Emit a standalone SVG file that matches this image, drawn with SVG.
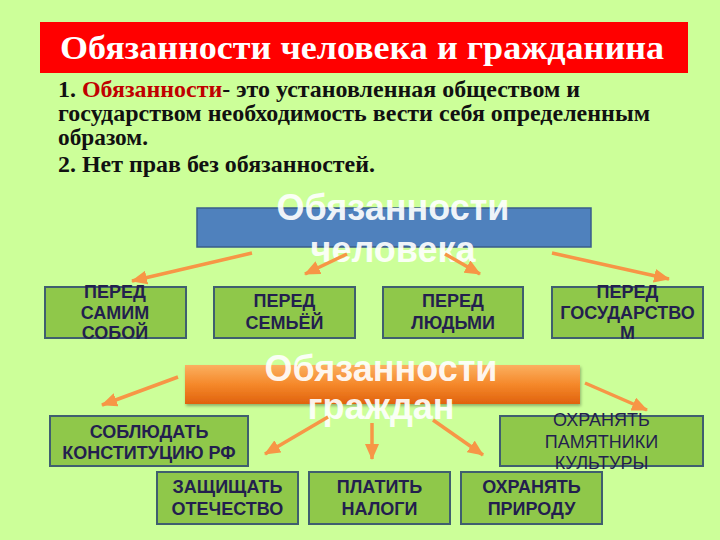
<svg xmlns="http://www.w3.org/2000/svg" width="720" height="540" viewBox="0 0 720 540">
<defs>
<style>
.bodyt{font-family:"Liberation Serif","Times New Roman",serif;font-weight:bold;font-size:23px;fill:#111111}
.node rect{fill:#8fc84a;stroke:#3f5f6f;stroke-width:2}
.nt{font-family:"Liberation Sans",Arial,sans-serif;font-weight:bold;font-size:18px;fill:#231f4e;text-anchor:middle}
.ntn{font-family:"Liberation Sans",Arial,sans-serif;font-size:18px;fill:#231f4e;text-anchor:middle}
.big{font-family:"Liberation Sans",Arial,sans-serif;font-weight:bold;font-size:36px;fill:#ffffff;fill-opacity:0.92;text-anchor:middle}
.conn line{stroke:#f79646;stroke-width:3.5;marker-end:url(#ah)}
</style>
<marker id="ah" markerUnits="userSpaceOnUse" markerWidth="16" markerHeight="14" refX="15" refY="7" orient="auto">
<path d="M0,0 L16,7 L0,14 z" fill="#f79646"/>
</marker>
<linearGradient id="og" x1="0" y1="0" x2="0" y2="1">
<stop offset="0" stop-color="#fbb060"/>
<stop offset="0.5" stop-color="#f5882a"/>
<stop offset="1" stop-color="#e0620e"/>
</linearGradient>
<filter id="sh" x="-5%" y="-10%" width="110%" height="130%">
<feDropShadow dx="1" dy="2" stdDeviation="1.5" flood-color="#000" flood-opacity="0.3"/>
</filter>
</defs>
<rect x="0" y="0" width="720" height="540" fill="#ccff99"/>

<g id="title">
<rect x="40" y="22" width="648" height="51" fill="#ff0000"/>
<text x="60" y="59" textLength="604" lengthAdjust="spacingAndGlyphs" font-family="Liberation Serif,'Times New Roman',serif" font-weight="bold" font-size="33" fill="#ffffff">Обязанности человека и гражданина</text>
</g>

<g id="definition">
<text class="bodyt" x="58" y="97" textLength="522" lengthAdjust="spacingAndGlyphs">1. <tspan fill="#c00000">Обязанности</tspan>- это установленная обществом и</text>
<text class="bodyt" x="58" y="121" textLength="592" lengthAdjust="spacingAndGlyphs">государством необходимость вести себя определенным</text>
<text class="bodyt" x="58" y="145" textLength="90" lengthAdjust="spacingAndGlyphs">образом.</text>
<text class="bodyt" x="58" y="172" textLength="317" lengthAdjust="spacingAndGlyphs">2. Нет прав без обязанностей.</text>
</g>

<g id="duties-person">
<rect x="197" y="208" width="394" height="39" fill="#4f81bd" stroke="#385d8a" stroke-width="1.5"/>
<text class="big" x="393" y="220">Обязанности</text>
<text class="big" x="393" y="262">человека</text>
</g>

<g id="duties-citizen">
<rect x="185" y="365" width="395" height="39" fill="url(#og)" filter="url(#sh)"/>
<text class="big" x="381" y="381">Обязанности</text>
<text class="big" x="381" y="419">граждан</text>
</g>

<g class="conn" id="connectors">
<line x1="252" y1="253" x2="132" y2="281"/>
<line x1="347" y1="254" x2="305" y2="274"/>
<line x1="445" y1="254" x2="480" y2="274"/>
<line x1="552" y1="253" x2="669" y2="279"/>
<line x1="178" y1="377" x2="102" y2="405"/>
<line x1="328" y1="417" x2="265" y2="454"/>
<line x1="372" y1="423" x2="372" y2="459"/>
<line x1="433" y1="420" x2="483" y2="455"/>
<line x1="585" y1="383" x2="647" y2="410"/>
</g>

<g class="node" id="self">
<rect x="45" y="287" width="141" height="51"/>
<text class="nt" x="115" y="298">ПЕРЕД</text>
<text class="nt" x="115" y="319">САМИМ</text>
<text class="nt" x="115" y="339">СОБОЙ</text>
</g>
<g class="node" id="family">
<rect x="214" y="287" width="141" height="51"/>
<text class="nt" x="284.5" y="307">ПЕРЕД</text>
<text class="nt" x="284.5" y="329">СЕМЬЁЙ</text>
</g>
<g class="node" id="people">
<rect x="383" y="287" width="140" height="51"/>
<text class="nt" x="453" y="307">ПЕРЕД</text>
<text class="nt" x="453" y="329">ЛЮДЬМИ</text>
</g>
<g class="node" id="state">
<rect x="552" y="287" width="151" height="51"/>
<text class="nt" x="627.5" y="298">ПЕРЕД</text>
<text class="nt" x="627.5" y="319">ГОСУДАРСТВО</text>
<text class="nt" x="627.5" y="339">М</text>
</g>

<g class="node" id="constitution">
<rect x="50" y="416" width="198" height="50"/>
<text class="nt" x="149" y="438">СОБЛЮДАТЬ</text>
<text class="nt" x="149" y="459">КОНСТИТУЦИЮ  РФ</text>
</g>
<g class="node" id="monuments">
<rect x="500" y="416" width="203" height="50"/>
<text class="ntn" x="601.5" y="426">ОХРАНЯТЬ</text>
<text class="ntn" x="601.5" y="448">ПАМЯТНИКИ</text>
<text class="ntn" x="601.5" y="469">КУЛЬТУРЫ</text>
</g>
<g class="node" id="defend">
<rect x="157" y="472" width="141" height="52"/>
<text class="nt" x="227.5" y="493">ЗАЩИЩАТЬ</text>
<text class="nt" x="227.5" y="515">ОТЕЧЕСТВО</text>
</g>
<g class="node" id="taxes">
<rect x="309" y="472" width="141" height="52"/>
<text class="nt" x="379.5" y="493">ПЛАТИТЬ</text>
<text class="nt" x="379.5" y="515">НАЛОГИ</text>
</g>
<g class="node" id="nature">
<rect x="461" y="472" width="141" height="52"/>
<text class="nt" x="531.5" y="493">ОХРАНЯТЬ</text>
<text class="nt" x="531.5" y="515">ПРИРОДУ</text>
</g>
</svg>
